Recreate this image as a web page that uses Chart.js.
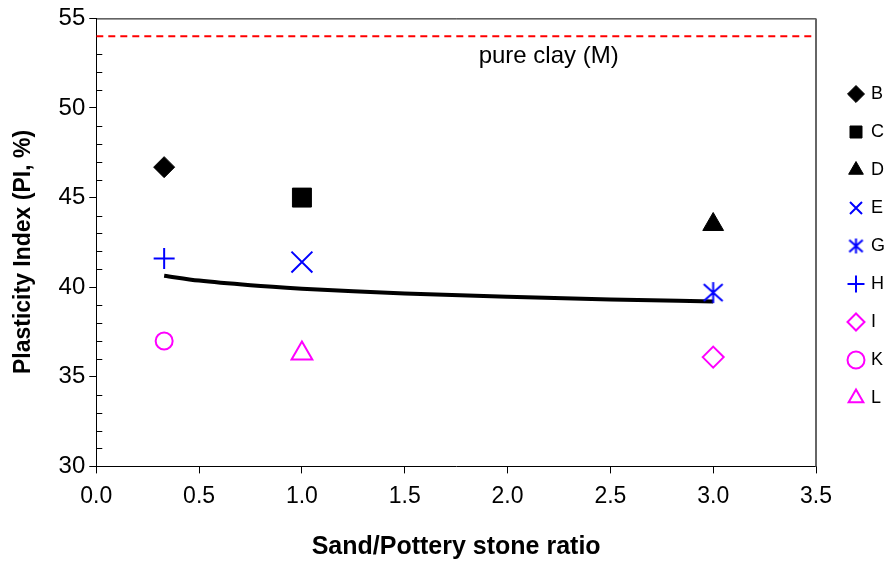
<!DOCTYPE html>
<html>
<head>
<meta charset="utf-8">
<title>Plasticity Index</title>
<script src="https://cdn.jsdelivr.net/npm/chart.js"></script>
<style>
  html, body { margin: 0; padding: 0; background: #fff; }
  #wrap { width: 889px; height: 563px; }
</style>
</head>
<body>
<div id="wrap"><canvas id="piChart"></canvas></div>
<script>
// mixes: sand / pottery stone ratio and measured PI
const mixNames = ['B', 'C', 'D', 'E', 'G', 'H', 'I', 'K', 'L'];
const mixRatio = [0.33, 1.0, 3.0, 1.0, 3.0, 0.33, 3.0, 0.33, 1.0];
const mixPI    = [46.7, 45.0, 43.5, 41.4, 39.7, 41.6, 36.1, 37.0, 36.3];

// log trend line, read along its length
const trendRatio = [0.33, 0.5, 0.75, 1.0, 1.25, 1.5, 2.0, 2.5, 3.0];
const trendPI    = [40.64, 40.37, 40.11, 39.92, 39.77, 39.65, 39.47, 39.32, 39.2];

// pure clay reference level
const clayPI = 54.0;
const clayLabel = 'pure clay (M)';
const clayLabelAt = [2.2, 52.5];

const xTicks = [0, 0.5, 1.0, 1.5, 2.0, 2.5, 3.0, 3.5];
const yTicks = [30, 35, 40, 45, 50, 55];

const FONT = "'Liberation Sans', Arial, sans-serif";
const BLACK = '#000000', BLUE = '#0000ff', PINK = '#ff00ff', NONE = 'rgba(0,0,0,0)';

// asterisk marker (X with a vertical bar)
function starMark(r, lw) {
  const c = document.createElement('canvas');
  const s = Math.ceil(2 * r + lw + 2);
  c.width = c.height = s;
  const g = c.getContext('2d');
  const m = s / 2;
  g.strokeStyle = BLUE;
  g.lineWidth = lw;
  g.beginPath();
  g.moveTo(m, m - r); g.lineTo(m, m + r);
  g.moveTo(m - r * 0.9, m - r * 0.8); g.lineTo(m + r * 0.9, m + r * 0.8);
  g.moveTo(m - r * 0.9, m + r * 0.8); g.lineTo(m + r * 0.9, m - r * 0.8);
  g.stroke();
  return c;
}
const starBig = starMark(10.5, 2);
const starSmall = starMark(7.5, 2);

// marker look per mix
const markers = [
  { style: 'rectRot',  r: 10.5, fill: BLACK, line: BLACK, w: 1 },
  { style: 'rect',     r: 13.4, fill: BLACK, line: BLACK, w: 1 },
  { style: 'triangle', r: 12,   fill: BLACK, line: BLACK, w: 1 },
  { style: 'crossRot', r: 14.8, fill: NONE,  line: BLUE,  w: 2 },
  { style: starBig,    r: 10.5, fill: NONE,  line: BLUE,  w: 2 },
  { style: 'cross',    r: 10.5, fill: NONE,  line: BLUE,  w: 2 },
  { style: 'rectRot',  r: 10.5, fill: NONE,  line: PINK,  w: 2 },
  { style: 'circle',   r: 8.5,  fill: NONE,  line: PINK,  w: 2 },
  { style: 'triangle', r: 12,   fill: NONE,  line: PINK,  w: 2 }
];

const datasets = mixNames.map((name, i) => ({
  label: name,
  data: [{ x: mixRatio[i], y: mixPI[i] }],
  pointStyle: markers[i].style,
  pointRadius: markers[i].r,
  pointBackgroundColor: markers[i].fill,
  pointBorderColor: markers[i].line,
  backgroundColor: markers[i].fill,
  borderColor: markers[i].line,
  pointBorderWidth: markers[i].w,
  borderWidth: markers[i].w,
  showLine: false
}));

datasets.push({
  label: 'trend',
  data: trendRatio.map((x, i) => ({ x: x, y: trendPI[i] })),
  showLine: true,
  borderColor: BLACK,
  borderWidth: 4,
  pointRadius: 0,
  cubicInterpolationMode: 'monotone',
  fill: false
});

datasets.push({
  label: 'clay',
  data: [{ x: xTicks[0], y: clayPI }, { x: xTicks[xTicks.length - 1], y: clayPI }],
  showLine: true,
  borderColor: '#ff0000',
  borderWidth: 2,
  borderDash: [7, 5],
  pointRadius: 0,
  fill: false
});

// box frame, inner minor ticks and the clay label
const framePlugin = {
  id: 'frame',
  beforeDatasetsDraw(chart) {
    const { ctx, chartArea: a, scales } = chart;
    ctx.save();
    ctx.strokeStyle = BLACK;
    ctx.lineWidth = 1;
    ctx.beginPath();
    ctx.moveTo(a.left, a.top + 0.5);
    ctx.lineTo(a.right, a.top + 0.5);
    const y = scales.y;
    for (let v = y.min + 1; v < y.max; v++) {
      if (v % 5 === 0) continue;
      const py = Math.round(y.getPixelForValue(v)) + 0.5;
      ctx.moveTo(a.left, py);
      ctx.lineTo(a.left + 6, py);
    }
    ctx.stroke();
    ctx.strokeStyle = '#666';
    ctx.lineWidth = 2;
    ctx.beginPath();
    ctx.moveTo(a.right, a.top);
    ctx.lineTo(a.right, a.bottom);
    ctx.stroke();

    ctx.fillStyle = BLACK;
    ctx.font = '24px ' + FONT;
    ctx.textAlign = 'center';
    ctx.textBaseline = 'alphabetic';
    ctx.fillText(clayLabel, scales.x.getPixelForValue(clayLabelAt[0]), y.getPixelForValue(clayLabelAt[1]));
    ctx.restore();
  }
};

new Chart(document.getElementById('piChart'), {
  type: 'scatter',
  data: { datasets: datasets },
  options: {
    responsive: true,
    maintainAspectRatio: false,
    animation: false,
    layout: { padding: { top: 17, left: 0, right: 0, bottom: 0 } },
    scales: {
      x: {
        type: 'linear',
        min: xTicks[0],
        max: xTicks[xTicks.length - 1],
        afterBuildTicks: (s) => { s.ticks = xTicks.map(v => ({ value: v })); },
        ticks: {
          color: BLACK,
          font: { family: FONT, size: 23 },
          padding: 9,
          callback: (v) => Number(v).toFixed(1)
        },
        grid: { drawOnChartArea: false, drawTicks: true, tickLength: 7, color: BLACK },
        border: { display: true, color: BLACK, width: 1 },
        title: {
          display: true,
          text: 'Sand/Pottery stone ratio',
          color: BLACK,
          font: { family: FONT, size: 25, weight: 'bold' },
          padding: { top: 13, bottom: 1 }
        }
      },
      y: {
        type: 'linear',
        min: yTicks[0],
        max: yTicks[yTicks.length - 1],
        afterBuildTicks: (s) => { s.ticks = yTicks.map(v => ({ value: v })); },
        ticks: {
          color: BLACK,
          font: { family: FONT, size: 24 },
          padding: 4
        },
        grid: { drawOnChartArea: false, drawTicks: true, tickLength: 7, color: BLACK },
        border: { display: true, color: BLACK, width: 1 },
        title: {
          display: true,
          text: 'Plasticity Index (PI, %)   ',
          color: BLACK,
          font: { family: FONT, size: 23, weight: 'bold' },
          padding: { top: 10, bottom: 17 }
        }
      },
      gap: {
        type: 'linear',
        position: 'right',
        display: true,
        ticks: { display: false },
        grid: { display: false },
        border: { display: false },
        afterFit: (s) => { s.width = 14; }
      }
    },
    plugins: {
      tooltip: { enabled: false },
      legend: {
        position: 'right',
        align: 'start',
        maxWidth: 59,
        title: { display: true, text: ' ', font: { size: 10 }, padding: { top: 36, bottom: 0 } },
        labels: {
          usePointStyle: true,
          boxWidth: 12,
          boxHeight: 12,
          padding: 20,
          color: BLACK,
          font: { family: FONT, size: 18 },
          generateLabels(chart) {
            const items = Chart.defaults.plugins.legend.labels.generateLabels(chart);
            return items.filter(it => mixNames.includes(it.text)).map(it => {
              if (it.text === 'G') it.pointStyle = starSmall;
              return it;
            });
          }
        }
      }
    }
  },
  plugins: [framePlugin]
});
</script>
</body>
</html>
